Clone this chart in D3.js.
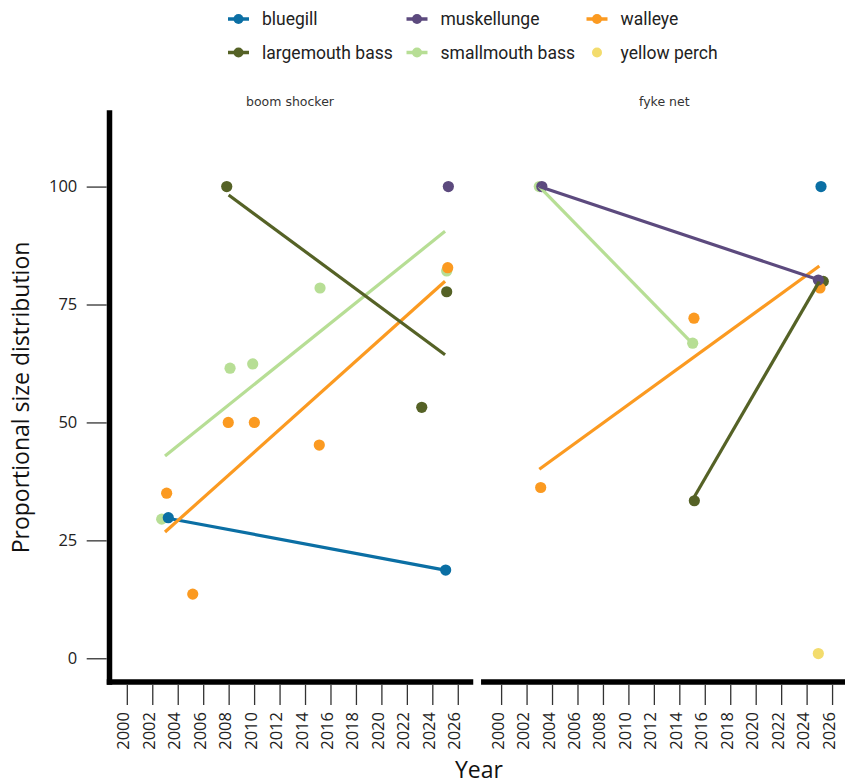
<!DOCTYPE html>
<html>
<head>
<meta charset="utf-8">
<script src="https://cdn.jsdelivr.net/npm/d3@7"></script>
<style>
  html, body { margin: 0; padding: 0; background: #fff; }
  svg { display: block; }
</style>
</head>
<body>
<svg id="chart" width="845" height="784"></svg>
<script>
// ---------------- DATA ----------------
const species = ["bluegill", "largemouth bass", "muskellunge", "smallmouth bass", "walleye", "yellow perch"];
const speciesColors = ["#0b6fa4", "#556226", "#5c4a7e", "#b7de95", "#fb9a21", "#f3dc6d"];
const panels = ["boom shocker", "fyke net"];
const xTickYears = [2000, 2002, 2004, 2006, 2008, 2010, 2012, 2014, 2016, 2018, 2020, 2022, 2024, 2026];
const yTickValues = [0, 25, 50, 75, 100];

// [year (as plotted, slightly jittered), proportional size distribution]
const bs_bluegill     = [[2003.26, 29.8], [2025.05, 18.7]];
const bs_largemouth   = [[2007.85, 100.0], [2023.17, 53.2], [2025.13, 77.7]];
const bs_muskellunge  = [[2025.26, 100.0]];
const bs_smallmouth   = [[2002.74, 29.5], [2008.11, 61.5], [2009.89, 62.4], [2015.18, 78.5], [2025.13, 82.1]];
const bs_walleye      = [[2003.13, 35.0], [2005.18, 13.6], [2007.97, 50.0], [2010.02, 50.0], [2015.12, 45.2], [2025.21, 82.8]];
const bs_yellowperch  = [];

const fn_bluegill     = [[2025.13, 100.0]];
const fn_largemouth   = [[2015.18, 33.4], [2025.31, 79.9]];
const fn_muskellunge  = [[2003.20, 100.0], [2024.92, 80.2]];
const fn_smallmouth   = [[2003.00, 100.0], [2015.05, 66.8]];
const fn_walleye      = [[2003.11, 36.2], [2015.15, 72.1], [2025.05, 78.5]];
const fn_yellowperch  = [[2024.92, 1.0]];

const panelData = [
  [bs_bluegill, bs_largemouth, bs_muskellunge, bs_smallmouth, bs_walleye, bs_yellowperch],
  [fn_bluegill, fn_largemouth, fn_muskellunge, fn_smallmouth, fn_walleye, fn_yellowperch]
];

// ---------------- LAYOUT ----------------
const svg = d3.select("#chart");
const panelX = [109.5, 483.8];
const panelW = 361;
const plotTop = 113, plotBottom = 682;
const tickFont = "'Open Sans', 'Noto Sans', sans-serif";

const x = d3.scaleLinear().domain([1998.64, 2027.0]).range([0, panelW]);
const y = d3.scaleLinear().domain([-5.03, 115.6]).range([plotBottom, plotTop]);

// linear fit over the original (integer) survey years
function lmFit(pts) {
  const xs = pts.map(p => Math.round(p[0]));
  const ys = pts.map(p => p[1]);
  const mx = d3.mean(xs), my = d3.mean(ys);
  let sxx = 0, sxy = 0;
  xs.forEach((xv, i) => { sxx += (xv - mx) ** 2; sxy += (xv - mx) * (ys[i] - my); });
  const b = sxy / sxx, a = my - b * mx;
  const x0 = d3.min(xs), x1 = d3.max(xs);
  return [[x0, a + b * x0], [x1, a + b * x1]];
}

// draw order for points and lines
const pointOrder = [1, 3, 4, 2, 0, 5];
const lineOrder = [0, 3, 4, 1, 2, 5];
const line = d3.line().x(d => x(d[0])).y(d => y(d[1]));

panels.forEach((pname, pi) => {
  const g = svg.append("g").attr("transform", `translate(${panelX[pi]},0)`);

  // strip title
  g.append("text")
    .attr("x", panelW / 2).attr("y", 106)
    .attr("text-anchor", "middle")
    .attr("font-family", "'DejaVu Sans', sans-serif")
    .attr("font-size", 12.5)
    .attr("fill", "#333")
    .text(pname);

  // x axis ticks
  const xa = g.append("g").attr("transform", `translate(0,${plotBottom + 3})`)
    .call(d3.axisBottom(x).tickValues(xTickYears).tickFormat(d3.format("d")).tickSize(20).tickSizeOuter(0));
  xa.select(".domain").remove();
  xa.selectAll(".tick line").attr("stroke", "#333").attr("stroke-width", 1.3);
  xa.selectAll(".tick text")
    .attr("transform", "rotate(-90)")
    .attr("x", -27).attr("y", 0).attr("dy", "0.12em")
    .attr("text-anchor", "end")
    .attr("font-family", tickFont).attr("font-size", 16.5).attr("fill", "#222");

  // points
  pointOrder.forEach(si => {
    g.append("g").selectAll("circle")
      .data(panelData[pi][si])
      .join("circle")
      .attr("cx", d => x(d[0])).attr("cy", d => y(d[1]))
      .attr("r", 5.6)
      .attr("fill", speciesColors[si]);
  });

  // fitted lines
  lineOrder.forEach(si => {
    const pts = panelData[pi][si];
    if (pts.length < 2) return;
    g.append("path")
      .attr("d", line(lmFit(pts)))
      .attr("fill", "none")
      .attr("stroke", speciesColors[si])
      .attr("stroke-width", 3.2);
  });

  // axis lines
  g.append("line")
    .attr("x1", 0).attr("x2", panelW)
    .attr("y1", plotBottom).attr("y2", plotBottom)
    .attr("stroke", "#000").attr("stroke-width", 5.5).attr("stroke-linecap", "square");
  if (pi === 0) {
    g.append("line")
      .attr("x1", 0).attr("x2", 0)
      .attr("y1", plotTop).attr("y2", plotBottom)
      .attr("stroke", "#000").attr("stroke-width", 5.5).attr("stroke-linecap", "square");
  }
});

// y axis
const ya = svg.append("g").attr("transform", `translate(${panelX[0] - 2.8},0)`)
  .call(d3.axisLeft(y).tickValues(yTickValues).tickSize(20).tickPadding(9.4).tickSizeOuter(0));
ya.select(".domain").remove();
ya.selectAll(".tick line").attr("stroke", "#333").attr("stroke-width", 1.3);
ya.selectAll(".tick text")
  .attr("font-family", tickFont).attr("font-size", 16.5).attr("fill", "#222");

// axis titles
svg.append("text")
  .attr("x", 479).attr("y", 778)
  .attr("text-anchor", "middle")
  .attr("font-family", tickFont).attr("font-size", 23).attr("fill", "#111")
  .text("Year");
svg.append("text")
  .attr("transform", "translate(29,397.5) rotate(-90)")
  .attr("text-anchor", "middle")
  .attr("font-family", tickFont).attr("font-size", 23).attr("fill", "#111")
  .text("Proportional size distribution");

// legend (2 rows, filled by column)
const legendCols = [238.5, 417, 597];
const legendRows = [19, 52.5];
species.forEach((s, i) => {
  const cx = legendCols[Math.floor(i / 2)], cy = legendRows[i % 2];
  const lg = svg.append("g");
  const hasLine = panelData.some(p => p[i].length >= 2);
  if (hasLine) {
    lg.append("line")
      .attr("x1", cx - 10.5).attr("x2", cx + 10.5)
      .attr("y1", cy).attr("y2", cy)
      .attr("stroke", speciesColors[i]).attr("stroke-width", 3.5);
  }
  lg.append("circle").attr("cx", cx).attr("cy", cy).attr("r", 5)
    .attr("fill", speciesColors[i]);
  lg.append("text")
    .attr("x", cx + 23.5).attr("y", cy).attr("dy", "0.36em")
    .attr("font-family", "Roboto, 'Noto Sans', sans-serif")
    .attr("font-size", 17.5).attr("fill", "#222")
    .text(s);
});
</script>
</body>
</html>
